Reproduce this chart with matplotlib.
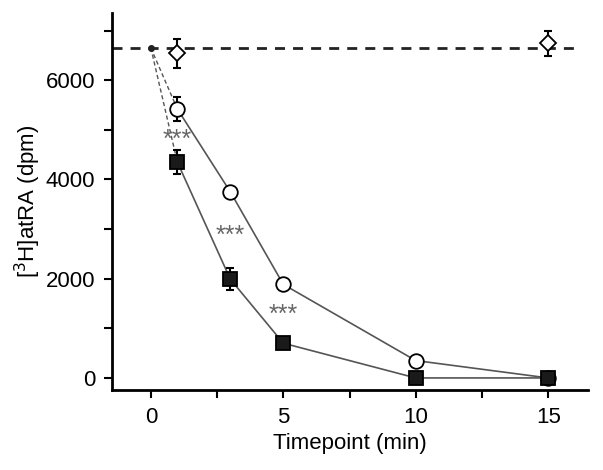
import matplotlib
matplotlib.use("Agg")
import matplotlib.pyplot as plt

plt.rcParams['font.family'] = ['Liberation Sans', 'DejaVu Sans']

# Data
baseline = 6650
t0 = 0
ctrl_x = [1, 15]
ctrl_y = [6540, 6740]
ctrl_err = [290, 250]

circ_x = [1, 3, 5, 10, 15]
circ_y = [5420, 3750, 1885, 350, 0]
circ_err = [240, 0, 0, 0, 0]

sq_x = [1, 3, 5, 10, 15]
sq_y = [4350, 1990, 700, 0, 0]
sq_err = [250, 220, 0, 0, 0]

star_x = [1, 3, 5]
star_y = [4870, 2930, 1340]

fig = plt.figure(figsize=(6.03, 4.70), dpi=100)
ax = fig.add_axes([0.186, 0.170, 0.789, 0.802])

# baseline
ax.axhline(baseline, xmin=0, xmax=0.977, color='#222222', lw=2, ls=(0, (3.6, 2.9)), zorder=1)

# thin dashed connections from t0
ax.plot([t0, circ_x[0]], [baseline, circ_y[0]], color='#555555', lw=1, ls=(0, (3, 2)), zorder=2)
ax.plot([t0, sq_x[0]], [baseline, sq_y[0]], color='#555555', lw=1, ls=(0, (3, 2)), zorder=2)
ax.plot([t0], [baseline], 'o', color='#222222', ms=4, zorder=5)

# series lines
ax.plot(circ_x, circ_y, color='#555555', lw=1.2, zorder=2)
ax.plot(sq_x, sq_y, color='#555555', lw=1.2, zorder=2)

ekw = dict(ecolor='black', elinewidth=1.5, capsize=3.2, capthick=1.5, ls='none', zorder=3)
ax.errorbar(circ_x, circ_y, yerr=circ_err, **ekw)
ax.errorbar(sq_x, sq_y, yerr=sq_err, **ekw)
ax.errorbar(ctrl_x, ctrl_y, yerr=ctrl_err, **ekw)

ax.plot(circ_x, circ_y, 'o', ms=10.5, mfc='white', mec='black', mew=1.3, ls='none', zorder=4)
ax.plot(sq_x, sq_y, 's', ms=10.5, mfc='#1a1a1a', mec='black', mew=1.3, ls='none', zorder=4)
ax.plot(ctrl_x, ctrl_y, 'D', ms=8, mfc='white', mec='black', mew=1.3, ls='none', zorder=4)

for x, y in zip(star_x, star_y):
    ax.annotate('***', xy=(x, y), xytext=(0, -2.5), textcoords='offset points',
                ha='center', va='center', fontsize=18, color='#666666', zorder=6)

ax.set_xlim(-1.46, 16.5)
ax.set_ylim(-245, 7350)
ax.set_xticks([0, 2.5, 5, 7.5, 10, 12.5, 15])
ax.set_xticklabels(['0', '', '5', '', '10', '', '15'])
ax.set_yticks([0, 1000, 2000, 3000, 4000, 5000, 6000, 7000])
ax.set_yticklabels(['0', '', '2000', '', '4000', '', '6000', ''])

for s in ['top', 'right']:
    ax.spines[s].set_visible(False)
for s in ['left', 'bottom']:
    ax.spines[s].set_linewidth(2)
ax.tick_params(axis='both', direction='out', length=6, width=1.5, labelsize=16, pad=6)

ax.set_xlabel('Timepoint (min)', fontsize=16, labelpad=4)
ax.set_ylabel('[$^{3}$H]atRA (dpm)', fontsize=16, labelpad=2)

fig.savefig('out.png', dpi=100)
